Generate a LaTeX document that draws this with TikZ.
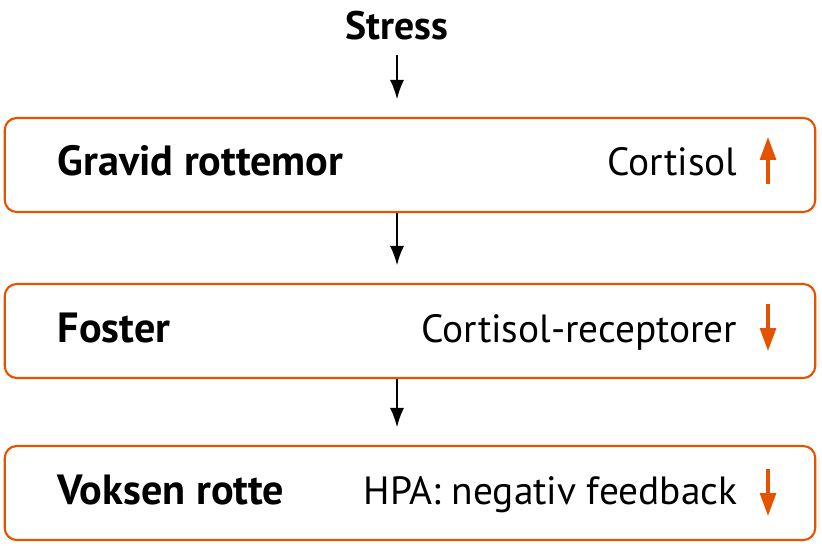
\documentclass[tikz,border=0pt]{standalone}
\usepackage{fontspec}
\setmainfont{PT Sans}
\usetikzlibrary{arrows.meta}
\definecolor{frame}{RGB}{229,83,0}
\tikzset{stage/.style={
  rectangle,
  draw=frame,line width=0.6pt,rounded corners=0.12cm,
  minimum width=8.1cm,minimum height=0.94cm}}
\tikzset{who/.style={font=\fontsize{12}{14}\selectfont\bfseries,inner sep=0pt}}
\tikzset{what/.style={font=\fontsize{11.2}{14}\selectfont,inner sep=0pt}}
\tikzset{flow/.style={-{Latex[length=5.5pt,width=4pt]},line width=0.55pt,shorten >=5pt}}
\tikzset{trend/.style={-{Triangle[length=6.5pt,width=4.5pt]},draw=frame,line width=0.9pt}}

\begin{document}
\begin{tikzpicture}[x=0.01cm,y=-0.01cm]
  \useasboundingbox (0,0) rectangle (822,546);
  \node[who,font=\fontsize{11.3}{14}\selectfont\bfseries,anchor=base] (stress) at (397,40) {Stress};
  \foreach \n/\y/\l/\r in {
      mor/165/Gravid rottemor/Cortisol,
      foster/331/Foster/Cortisol-receptorer,
      voksen/493/Voksen rotte/HPA: negativ feedback}
    {
    \node[stage] (\n) at (410,\y) {};
    \node[who,anchor=base west] (\n-l) at (57,\y+11) {\l};
    \node[what,anchor=base east] (\n-r) at (738,\y+11) {\r};
    }
  % pile opp / ned
  \coordinate (mor-a) at (768,184);
  \coordinate (mor-b) at (768,137);
  \coordinate (foster-a) at (768,304);
  \coordinate (foster-b) at (768,351);
  \coordinate (voksen-a) at (768,469);
  \coordinate (voksen-b) at (768,516);
  \foreach \n in {mor,foster,voksen}
    \draw[trend] (\n-a) -- (\n-b);
  \draw[flow,shorten <=4pt] (stress.south) -- (stress.south |- mor.north);
  \foreach \m/\n in {mor/foster,foster/voksen}
    \draw[flow] (\m.south -| stress) -- (\n.north -| stress);
\end{tikzpicture}
\end{document}
